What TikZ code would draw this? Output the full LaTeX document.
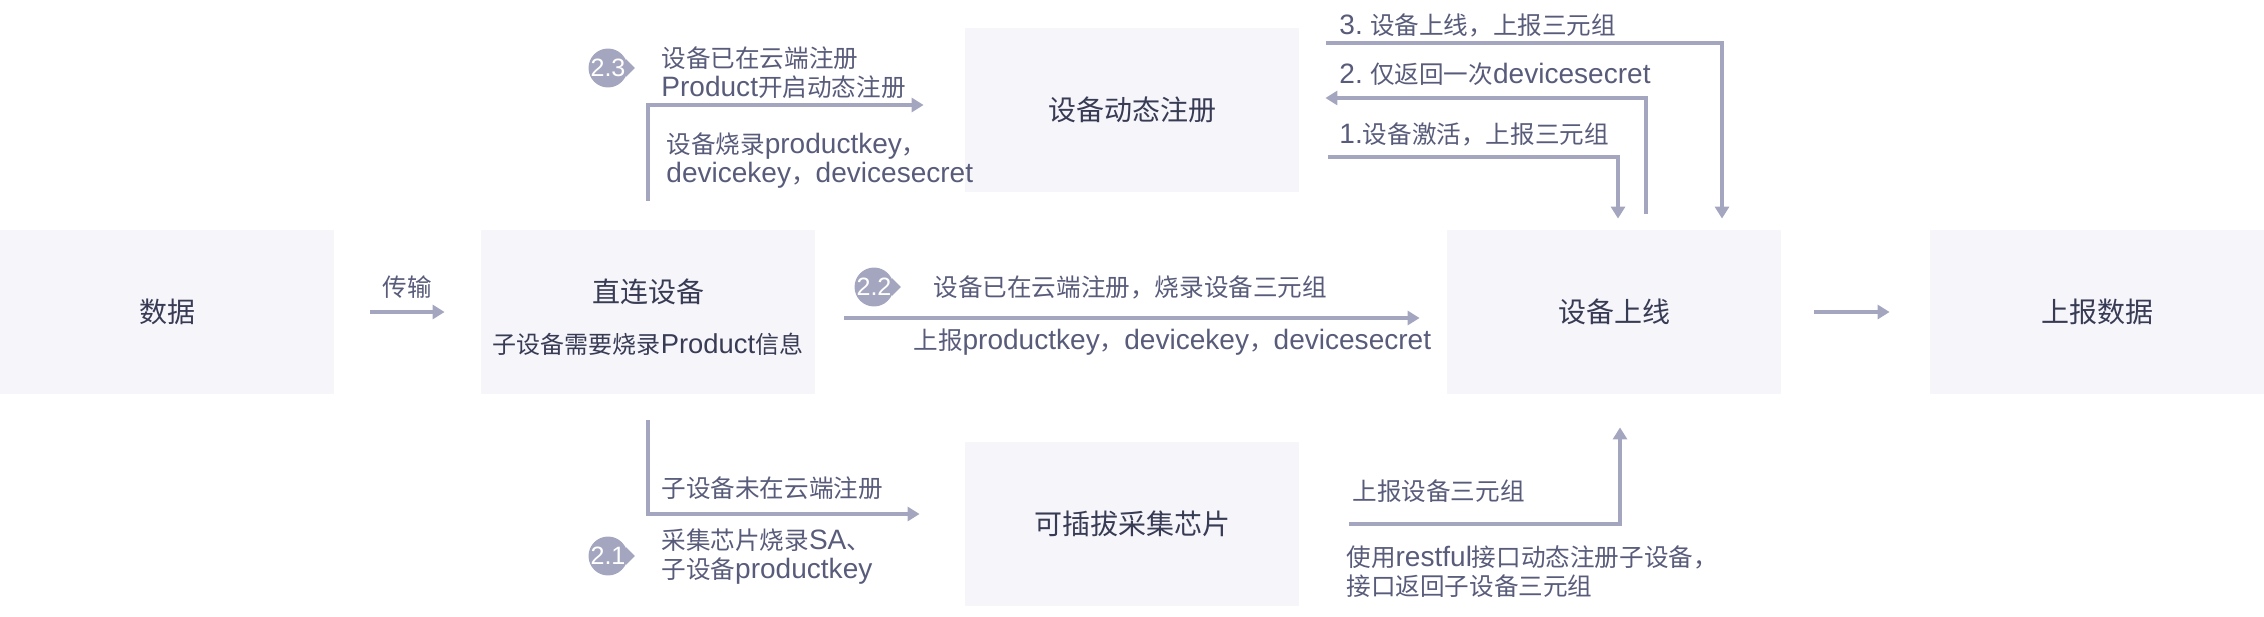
\documentclass[tikz,border=0pt]{standalone}
\usepackage{fontspec}
\setmainfont{Noto Sans CJK SC}
\newfontfamily\latinfont[Scale=1.14]{Liberation Sans}
\newcommand{\en}[1]{{\latinfont #1}}
\usetikzlibrary{arrows.meta}
\definecolor{boxfill}{HTML}{F5F5FA}
\definecolor{linecol}{HTML}{A4A6BF}
\definecolor{titletext}{HTML}{383B54}
\definecolor{labeltext}{HTML}{585C7A}
\tikzset{
  block/.style={fill=boxfill, minimum width=167pt, minimum height=82pt, inner sep=0pt,
    text=titletext, font=\fontsize{14}{16}\selectfont},
  boxtitle/.style={inner sep=0pt, text=titletext, font=\fontsize{14}{16}\selectfont},
  sublbl/.style={inner sep=0pt, text=titletext, font=\fontsize{12}{14}\selectfont},
  flow/.style={draw=linecol, line width=2pt, -{Triangle[length=6pt,width=7pt]}},
  lbl/.style={inner sep=0pt, anchor=west, align=left, text=labeltext,
    font=\fontsize{12.3}{14.5}\selectfont},
  badge/.style={circle, fill=linecol, text=white, minimum size=19pt, inner sep=0pt,
    font=\fontsize{11}{11}\selectfont},
}
\newcommand{\badgetip}[1]{\fill[linecol] (#1.28) -- ([xshift=3.5pt]#1.east) -- (#1.-28) -- cycle;}
\begin{document}
\begin{tikzpicture}[x=0.5pt,y=-0.5pt]
    \useasboundingbox (0,0) rectangle (2264,616);
    % Boxes
    \node[block] (data) at (167,312) {数据};
    \node[block] (direct) at (648,312) {};
    \node[boxtitle] (directtitle) at (648,292) {直连设备};
    \node[sublbl] (directsub) at (648,344) {子设备需要烧录\en{Product}信息};
    \node[block] (dyn) at (1132,110) {设备动态注册};
    \node[block] (chip) at (1132,524) {可插拔采集芯片};
    \node[block] (online) at (1614,312) {设备上线};
    \node[block] (report) at (2097,312) {上报数据};
    % Main row
    \draw[flow] ([xshift=18pt]data.east) -- ([xshift=-18pt]direct.west)
        node[midway, above=6pt, inner sep=0pt, text=labeltext, font=\fontsize{12.3}{14}\selectfont] (ltransfer) {传输};
    \draw[flow] ([xshift=16.5pt]online.east) -- ([xshift=-20pt]report.west);
    % 2.2 direct registration
    \draw[flow] ([xshift=14.5pt,yshift=-3pt]direct.east) -- ([xshift=-13.5pt,yshift=-3pt]online.west);
    \node[badge] (b22) at (874,287) {\en{2.2}};
    \badgetip{b22}
    \node[lbl] (l22a) at (933,287) {设备已在云端注册，烧录设备三元组};
    \node[lbl] (l22b) at (913,342) {上报\en{productkey}，\en{devicekey}，\en{devicesecret}};
    % 2.3 dynamic registration
    \draw[flow] ([yshift=14.5pt]direct.north) |- ([xshift=-20.5pt,yshift=2.5pt]dyn.west);
    \node[badge] (b23) at (608,68) {\en{2.3}};
    \badgetip{b23}
    \node[lbl] (l23a) at (661,72.5) {设备已在云端注册\\\en{Product}开启动态注册};
    \node[lbl] (l23b) at (666,160.5) {设备烧录\en{productkey}，\\\en{devicekey}，\en{devicesecret}};
    % 2.1 pluggable chip
    \draw[flow] ([yshift=-13pt]direct.south) |- ([xshift=-22.5pt,yshift=5pt]chip.west);
    \node[badge] (b21) at (608,556) {\en{2.1}};
    \badgetip{b21}
    \node[lbl] (l21a) at (661,488) {子设备未在云端注册};
    \node[lbl] (l21b) at (661,556.5) {采集芯片烧录\en{SA}、\\子设备\en{productkey}};
    \draw[flow] ([xshift=25pt]chip.east) -| ([xshift=3pt,yshift=-16.5pt]online.south);
    \node[lbl] (lchipa) at (1352,491) {上报设备三元组};
    \node[lbl] (lchipb) at (1346,572) {使用\en{restful}接口动态注册子设备，\\接口返回子设备三元组};
    % Dynamic registration steps
    \draw[flow] ([xshift=13.5pt,yshift=33.5pt]dyn.east) -| ([xshift=54pt,yshift=5.5pt]online.north);
    \draw[flow] ([xshift=16pt,yshift=8pt]online.north) |- ([xshift=13pt,yshift=6pt]dyn.east);
    \draw[flow] ([xshift=14.5pt,yshift=-23.5pt]dyn.east) -| ([xshift=2pt,yshift=5.5pt]online.north);
    \node[lbl] (l3) at (1339,25) {\en{3.} 设备上线，上报三元组};
    \node[lbl] (l2) at (1339,74) {\en{2.} 仅返回一次\en{devicesecret}};
    \node[lbl] (l1) at (1339,134) {\en{1.}设备激活，上报三元组};
\end{tikzpicture}
\end{document}
